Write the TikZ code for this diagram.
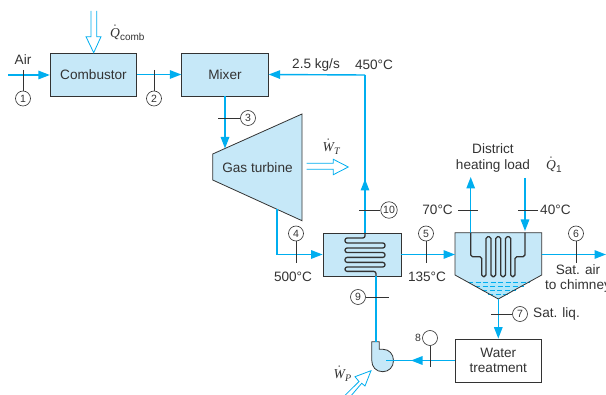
\documentclass[tikz,border=0pt]{standalone}
\usepackage{fontspec}
\setmainfont{Liberation Sans}
\newfontfamily\symfont{Liberation Serif}
\usetikzlibrary{positioning,arrows.meta,calc}
\definecolor{flowblue}{HTML}{00AEEF}
\definecolor{boxblue}{HTML}{C6E8F8}
\definecolor{inkgray}{HTML}{333333}
\newcommand{\ratesym}[1]{$\dot{\mbox{\symfont\itshape #1}}$}
\newcommand{\lowsym}[1]{\raisebox{-3.5pt}{\fontsize{10}{11}\selectfont #1}}
\begin{document}
\begin{tikzpicture}[
  x=1pt, y=-1pt,
  font=\fontsize{13.6}{15.5}\selectfont, text=inkgray,
  unit/.style={draw=inkgray, line width=0.8pt, fill=boxblue, minimum width=86.5pt, minimum height=43pt, inner sep=0pt, align=center},
  plain/.style={unit, fill=white},
  fl/.style={draw=flowblue, line width=1.4pt},
  fa/.style={fl, -{Triangle[length=11.5pt,width=8.5pt]}},
  tick/.style={draw=inkgray, line width=0.6pt},
  st/.style={circle, draw=inkgray, line width=0.6pt, fill=white, minimum size=15pt, inner sep=0pt, font=\fontsize{10.5}{11}\selectfont},
  lb/.style={inner sep=0pt, align=center},
  coil/.style={draw=inkgray, line width=1.3pt, line join=round, rounded corners=2.2pt},
  wave/.style={draw=flowblue, line width=0.6pt, dash pattern=on 5pt off 2.5pt},
  hollow/.style={draw=flowblue, line width=0.8pt, fill=white}
]
\useasboundingbox (0,0) rectangle (606,395);

% units
\node[unit] (comb) at (93.5,74.5) {Combustor};
\node[unit] (mix) at (225,74.5) {Mixer};
\node[unit, minimum width=78pt] (hx) at (362,254.5) {};
\node[plain] (wt) at (498.3,360.5) {Water\\treatment};
\path[draw=inkgray, line width=0.8pt, fill=boxblue] (212.7,154) -- (302,114) -- (302,220.7) -- (212.7,180) -- cycle;
\node[lb] (turb) at (257.5,168) {Gas turbine};
\coordinate (turbin) at (225,148.5);
\coordinate (turbout) at (277,209.5);

% condenser
\path[fill=boxblue] (455,232.7) -- (541.7,232.7) -- (541.7,275) -- (498.3,299) -- (455,275) -- cycle;
\path[fill=flowblue!30] (467,281.7) -- (530,281.7) -- (498.3,299) -- cycle;
\foreach \yy/\xa/\xb in {282/468/530, 286/475/524, 290/482/516, 294/488/510}
  \draw[wave] (\xa,\yy) -- (\xb,\yy);
\draw[inkgray, line width=0.8pt] (455,232.7) -- (541.7,232.7) -- (541.7,275) -- (498.3,299) -- (455,275) -- cycle;
\coordinate (cond) at (498.3,299);

% pump
\path[draw=inkgray, line width=0.8pt, fill=boxblue] (371.7,341.7) -- (379.3,341.7) -- (379.3,349.3) -- (383,349.3)
  .. controls (389,349.3) and (393.5,354) .. (393.5,360.5)
  .. controls (393.5,367) and (389,371.7) .. (382.7,371.7)
  .. controls (376,371.7) and (371.7,367) .. (371.7,360) -- cycle;
\coordinate (pumpin) at (386,360.5);

% main flows
\coordinate (airin) at (8,75);
\coordinate (coilout) at (365,233);
\coordinate (up10) at (365,75);
\coordinate (out6) at (606,254.5);
\coordinate (coilback) at (376,276);
\coordinate (pumptop) at (376,342);
\draw[fa] (airin) -- (comb.west |- airin);
\draw[fa] (comb.east) -- (mix.west);
\draw[fa] (mix.south) -- (turbin);
\draw[fa] (turbout) |- (hx.west);
\draw[fa] (hx.east) -- (455,254.5);
\draw[fa] (541.7,254.5) -- (out6);
\draw[fa] (cond) -- (wt.north);
\draw[fl] (coilout) -- (up10);
\draw[fa] (up10) -- (mix.east);
\draw[fa] (coilout) -- (365,179);
\draw[fl] (wt.west |- pumpin) -- (pumpin);
\draw[fa] (wt.west |- pumpin) -- (411,360.5);
\draw[draw=flowblue, line width=1.6pt] (coilback) -- (pumptop);

% coils
\draw[coil] (365,233) -- (365,238) -- (345,238) -- (345,243) -- (385,243) -- (385,248) -- (345,248) -- (345,252.6)
  -- (385,252.6) -- (385,257.4) -- (345,257.4) -- (345,262.4) -- (385,262.4) -- (385,267) -- (345,267) -- (345,271.4)
  -- (376,271.4) -- (376,276);

\coordinate (dhup) at (470.7,177);
\coordinate (dhdn) at (525,178);
\draw[fa] (470.7,233) -- (dhup);
\draw[fa] (dhdn) -- (525,231);
\draw[coil, rounded corners=1.8pt] (470.7,232.7) -- (470.7,256.7) -- (481.7,256.7) -- (481.7,276.7) -- (486,276.7) -- (486,236.7)
  -- (491,236.7) -- (491,276.7) -- (495.7,276.7) -- (495.7,236.7) -- (500.7,236.7) -- (500.7,276.7) -- (505.5,276.7)
  -- (505.5,236.7) -- (510.7,236.7) -- (510.7,276.7) -- (515,276.7) -- (515,256.7) -- (525,256.7) -- (525,232.7);

% hollow heat and work arrows
\path[hollow] (91,11) -- (91,36.7) -- (86,36.7) -- (93.7,52.7) -- (101,36.7) -- (96.7,36.7) -- (96.7,11);
\path[hollow] (306.7,163.3) -- (333.3,163.3) -- (333.3,159.3) -- (348.3,167) -- (333.3,174.7) -- (333.3,169.3) -- (306.7,169.3);
\path[hollow] (343.3,397) -- (359,381.5) -- (355,376.7) -- (371,370.7) -- (365,386) -- (361.7,383.3) -- (350,397);

% station ticks and circles
\foreach \nm/\xx/\txt in {s1/23/1, s2/154/2}{
  \draw[tick] (\xx,70) -- (\xx,91);
  \node[st] (\nm) at (\xx,98.5) {\txt};
}
\foreach \nm/\xx/\txt in {s4/296/4, s5/426/5, s6/576/6}{
  \draw[tick] (\xx,241) -- (\xx,263);
  \node[st] (\nm) at (\xx,233.5) {\txt};
}
\node[st] (s3) at (248,118) {3};
\draw[tick] (218,118) -- (s3);
\node[st, minimum size=16.5pt] (s10) at (389,210) {10};
\draw[tick] (359,210) -- (s10);
\node[st] (s9) at (358,297) {9};
\draw[tick] (s9) -- (389,297);
\node[st] (s7) at (520,314) {7};
\draw[tick] (491,314) -- (s7);
\node[st] (s8) at (430,338) {};
\draw[tick] (s8) -- (430,367);
\draw[tick] (458,210) -- (478,210);
\draw[tick] (518,210) -- (538,210);

% labels
\node[lb] (lair) at (23,60) {Air};
\node[lb, anchor=west] (lq) at (110,33) {\ratesym{Q}\lowsym{comb}};
\node[lb] (lrate) at (316,65) {2.5 kg/s};
\node[lb] (lt450) at (374,65) {450°C};
\node[lb, anchor=west] (lwt) at (322.5,147) {\ratesym{W}\lowsym{\symfont\itshape T}};
\node[lb] (lt500) at (293,277) {500°C};
\node[lb] (lt135) at (427,277) {135°C};
\node[lb, anchor=east] (lt70) at (453,210) {70°C};
\node[lb, anchor=west] (lt40) at (540,210) {40°C};
\node[lb] (ldh) at (493,158) {District\\heating load};
\node[lb, anchor=west] (lq1) at (546,165) {\ratesym{Q}\lowsym{1}};
\node[lb, anchor=north] (lsat) at (578,264) {Sat. air\\to chimney};
\node[lb, anchor=west] (lliq) at (533,314) {Sat. liq.};
\node[lb] (l8) at (418,338) {\fontsize{10.5}{11}\selectfont 8};
\node[lb, anchor=west] (lwp) at (333.5,374) {\ratesym{W}\lowsym{\symfont\itshape P}};
\end{tikzpicture}
\end{document}
